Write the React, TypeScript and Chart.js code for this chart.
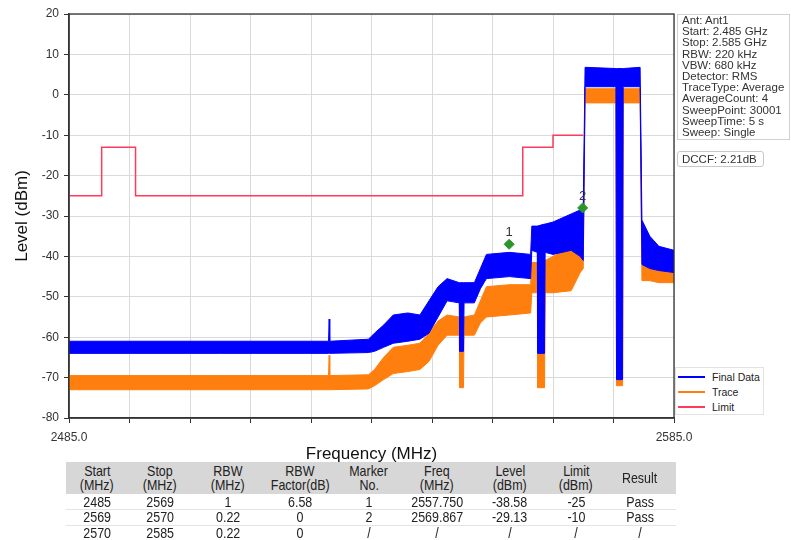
import React, { useEffect, useRef } from 'react';
import { Chart, registerables } from 'chart.js';

Chart.register(...registerables);

// ---------- data ----------
const traceFreq = [
  2485.0, 2510.0, 2527.9, 2528.0, 2528.1, 2534.5, 2535.5, 2537.0, 2538.6, 2541.0,
  2543.0, 2544.5, 2546.0, 2547.5, 2549.5, 2549.6, 2550.2, 2550.3, 2552.0, 2553.0,
  2554.0, 2557.8, 2561.3, 2561.5, 2562.4, 2562.5, 2563.6, 2563.7, 2565.0, 2568.0,
  2569.5, 2570.0, 2570.3, 2575.4, 2575.5, 2576.5, 2576.6, 2579.4, 2579.7, 2581.0,
  2582.5, 2585.0,
];
const finalHigh = [
  -61.0, -61.0, -61.0, -55.5, -61.0, -60.5, -59.0, -57.0, -54.5, -54.0,
  -54.5, -51.0, -47.5, -45.5, -46.5, -46.5, -46.5, -46.5, -46.5, -43.0,
  -39.5, -39.0, -39.5, -32.5, -32.5, -32.5, -32.0, -32.0, -31.5, -29.5,
  -28.5, -27.5, 6.8, 6.5, 6.5, 6.5, 6.5, 6.8, -31.0, -35.0,
  -37.5, -38.5,
];
const finalLow = [
  -64.0, -64.0, -64.0, -64.0, -64.0, -63.8, -63.5, -62.5, -61.5, -61.0,
  -60.5, -59.0, -55.0, -51.0, -51.5, -63.5, -63.5, -51.5, -51.5, -48.0,
  -45.5, -45.0, -45.5, -38.5, -39.0, -64.0, -64.0, -39.0, -39.5, -38.5,
  -40.0, -41.0, 2.0, 2.0, -70.5, -70.5, 2.0, 2.0, -42.0, -43.0,
  -43.5, -44.0,
];
const traceHigh = [
  -69.5, -69.5, -69.5, -64.5, -69.5, -69.3, -68.0, -65.0, -62.5, -62.0,
  -61.5, -59.0, -56.0, -54.5, -55.0, -55.0, -55.0, -55.0, -54.5, -51.0,
  -47.5, -47.0, -47.0, -41.5, -41.5, -41.5, -41.0, -41.0, -40.0, -37.5,
  -37.0, -37.0, 1.5, 1.5, 1.5, 1.5, 1.5, 1.5, -40.0, -41.0,
  -41.5, -41.5,
];
const traceLow = [
  -73.0, -73.0, -73.0, -73.0, -73.0, -72.8, -72.0, -70.5, -69.0, -68.5,
  -68.0, -66.0, -62.0, -59.5, -59.5, -72.5, -72.5, -59.5, -59.5, -56.5,
  -55.0, -54.5, -54.0, -49.0, -49.0, -72.5, -72.5, -49.0, -49.0, -48.5,
  -44.0, -43.0, -2.0, -2.0, -72.0, -72.0, -2.0, -2.0, -46.0, -46.0,
  -46.5, -46.5,
];

const limitFreq = [2485, 2490.4, 2490.4, 2496, 2496, 2560, 2560, 2565, 2565, 2570];
const limitLevel = [-25, -25, -13, -13, -25, -25, -13, -13, -10, -10];

const markerNames = ['1', '2'];
const markerFreq = [2557.75, 2569.9];
const markerLevel = [-37.0, -28.0];

const xEdgeTicks = [2485, 2585];

const infoLines = [
  'Ant: Ant1',
  'Start: 2.485 GHz',
  'Stop: 2.585 GHz',
  'RBW: 220 kHz',
  'VBW: 680 kHz',
  'Detector: RMS',
  'TraceType: Average',
  'AverageCount: 4',
  'SweepPoint: 30001',
  'SweepTime: 5 s',
  'Sweep: Single',
];
const dccfText = 'DCCF: 2.21dB';

const legendLabels = ['Final Data', 'Trace', 'Limit'];
const legendColors = ['#0000ff', '#ff7f0e', '#ff3b5c'];

const tableHeaders = [
  ['Start', '(MHz)'],
  ['Stop', '(MHz)'],
  ['RBW', '(MHz)'],
  ['RBW', 'Factor(dB)'],
  ['Marker', 'No.'],
  ['Freq', '(MHz)'],
  ['Level', '(dBm)'],
  ['Limit', '(dBm)'],
  ['Result'],
];
const tableRows = [
  ['2485', '2569', '1', '6.58', '1', '2557.750', '-38.58', '-25', 'Pass'],
  ['2569', '2570', '0.22', '0', '2', '2569.867', '-29.13', '-10', 'Pass'],
  ['2570', '2585', '0.22', '0', '/', '/', '/', '/', '/'],
];
const colWidths = [62, 64, 72, 72, 66, 70, 76, 56, 72];

// ---------- chart ----------
const FONT = "'Liberation Sans', Arial, sans-serif";

const framePlugin = {
  id: 'frame',
  afterDraw(chart: any) {
    const { ctx, chartArea } = chart;
    ctx.save();
    ctx.strokeStyle = '#333';
    ctx.lineWidth = 1.3;
    ctx.strokeRect(chartArea.left, chartArea.top, chartArea.right - chartArea.left, chartArea.bottom - chartArea.top);
    ctx.restore();
  },
};

const markerLabelPlugin = {
  id: 'markerLabels',
  afterDatasetsDraw(chart: any) {
    const meta = chart.getDatasetMeta(0);
    const ctx = chart.ctx;
    ctx.save();
    ctx.fillStyle = '#333';
    ctx.font = `13px ${FONT}`;
    ctx.textAlign = 'center';
    ctx.textBaseline = 'bottom';
    meta.data.forEach((el: any, i: number) => {
      ctx.fillText(markerNames[i], el.x, el.y - 5);
    });
    ctx.restore();
  },
};

export default function App() {
  const ref = useRef<HTMLCanvasElement>(null);

  useEffect(() => {
    const canvas = ref.current;
    if (!canvas) return;
    const pts = (ys: number[]) => traceFreq.map((x, i) => ({ x, y: ys[i] }));
    const band = (color: string) => ({
      borderColor: color,
      backgroundColor: color,
      borderWidth: 1,
      pointRadius: 0,
      tension: 0,
    });
    const chart = new Chart(canvas, {
      type: 'line',
      data: {
        datasets: [
          {
            label: 'Markers',
            data: markerFreq.map((x, i) => ({ x, y: markerLevel[i] })),
            showLine: false,
            pointStyle: 'rectRot',
            pointRadius: 5,
            backgroundColor: '#2a962a',
            borderColor: '#2a962a',
          },
          {
            label: 'Limit',
            data: limitFreq.map((x, i) => ({ x, y: limitLevel[i] })),
            borderColor: legendColors[2],
            borderWidth: 1.5,
            pointRadius: 0,
            fill: false,
          },
          { label: 'Final Data', data: pts(finalHigh), ...band(legendColors[0]), fill: '+1' },
          { label: 'Final Data low', data: pts(finalLow), ...band(legendColors[0]), fill: false },
          { label: 'Trace', data: pts(traceHigh), ...band(legendColors[1]), fill: '+1' },
          { label: 'Trace low', data: pts(traceLow), ...band(legendColors[1]), fill: false },
        ],
      },
      options: {
        animation: false,
        responsive: false,
        devicePixelRatio: 1,
        layout: { padding: { top: 14, right: 117, left: 0, bottom: 0 } },
        plugins: { legend: { display: false }, tooltip: { enabled: false } },
        scales: {
          x: {
            type: 'linear',
            min: 2485,
            max: 2585,
            ticks: {
              stepSize: 10,
              autoSkip: false,
              maxRotation: 0,
              padding: 7,
              color: '#333',
              font: { size: 12, family: FONT },
              callback: (v: any) => (xEdgeTicks.includes(Number(v)) ? Number(v).toFixed(1) : ''),
            },
            grid: { color: '#dadada', tickColor: '#333', tickLength: 5 },
            border: { color: '#333', width: 1.5 },
            title: {
              display: true,
              text: 'Frequency (MHz)',
              color: '#111',
              font: { size: 17, family: FONT },
              padding: { top: 0, bottom: 1 },
            },
            afterFit: (s: any) => {
              s.height = 48;
            },
          },
          y: {
            min: -80,
            max: 20,
            ticks: {
              stepSize: 10,
              padding: 5,
              color: '#333',
              font: { size: 12, family: FONT },
            },
            grid: { color: '#dadada', tickColor: '#333', tickLength: 5 },
            border: { color: '#333', width: 1.5 },
            title: {
              display: true,
              text: 'Level (dBm)',
              color: '#111',
              font: { size: 17, family: FONT },
              padding: { top: 12, bottom: 0 },
            },
            afterFit: (s: any) => {
              s.width = 69;
            },
          },
        },
      } as any,
      plugins: [framePlugin, markerLabelPlugin],
    });
    return () => chart.destroy();
  }, []);

  const boxText: React.CSSProperties = {
    fontFamily: FONT,
    fontSize: 11.5,
    color: '#333',
    lineHeight: '11.2px',
  };

  const cellText = (t: string) => (
    <span style={{ display: 'inline-block', transform: 'scaleX(0.86)', whiteSpace: 'nowrap' }}>{t}</span>
  );

  return (
    <div style={{ position: 'fixed', left: 0, top: 0, width: 791, height: 540, background: '#fff', overflow: 'hidden' }}>
      <canvas ref={ref} width={791} height={466} style={{ position: 'absolute', left: 0, top: 0, width: 791, height: 466 }} />
      <div
        style={{
          position: 'absolute',
          left: 677,
          top: 14,
          width: 113,
          height: 126,
          border: '1px solid #d0d0d0',
          boxSizing: 'border-box',
          padding: '0 0 0 4px',
          ...boxText,
          whiteSpace: 'nowrap',
        }}
      >
        {infoLines.map((l, i) => (
          <div key={i}>{l}</div>
        ))}
      </div>
      <div
        style={{
          position: 'absolute',
          left: 677,
          top: 151,
          width: 87,
          height: 16,
          border: '1px solid #c8c8c8',
          borderRadius: 3,
          boxSizing: 'border-box',
          padding: '2px 0 0 4px',
          ...boxText,
          whiteSpace: 'nowrap',
        }}
      >
        {dccfText}
      </div>
      <div
        style={{
          position: 'absolute',
          left: 675,
          top: 367,
          width: 89,
          height: 48,
          border: '1px solid #e2e2e2',
          boxSizing: 'border-box',
          background: '#fff',
        }}
      >
        {legendLabels.map((l, i) => (
          <div key={i} style={{ position: 'absolute', left: 2, top: 2 + i * 15, height: 14, display: 'flex', alignItems: 'center' }}>
            <div style={{ width: 27, height: 1.5, background: legendColors[i] }} />
            <div style={{ marginLeft: 7, fontFamily: FONT, fontSize: 10.5, color: '#222', whiteSpace: 'nowrap' }}>{l}</div>
          </div>
        ))}
      </div>
      <table
        style={{
          position: 'absolute',
          left: 66,
          top: 462,
          width: 610,
          borderCollapse: 'collapse',
          tableLayout: 'fixed',
          fontFamily: FONT,
          fontSize: 14.5,
          color: '#222',
        }}
      >
        <colgroup>
          {colWidths.map((w, i) => (
            <col key={i} style={{ width: w }} />
          ))}
        </colgroup>
        <thead>
          <tr style={{ background: '#d7d7d7', height: 32 }}>
            {tableHeaders.map((h, i) => (
              <th key={i} style={{ fontWeight: 'normal', padding: 0, lineHeight: '14px', textAlign: 'center', verticalAlign: 'middle' }}>
                {h.map((t, j) => (
                  <div key={j}>{cellText(t)}</div>
                ))}
              </th>
            ))}
          </tr>
        </thead>
        <tbody>
          {tableRows.map((r, i) => (
            <tr key={i} style={{ height: 15.5, borderBottom: '1px solid #e4e4e4' }}>
              {r.map((c, j) => (
                <td key={j} style={{ padding: 0, lineHeight: '14px', textAlign: 'center' }}>
                  {cellText(c)}
                </td>
              ))}
            </tr>
          ))}
        </tbody>
      </table>
    </div>
  );
}
